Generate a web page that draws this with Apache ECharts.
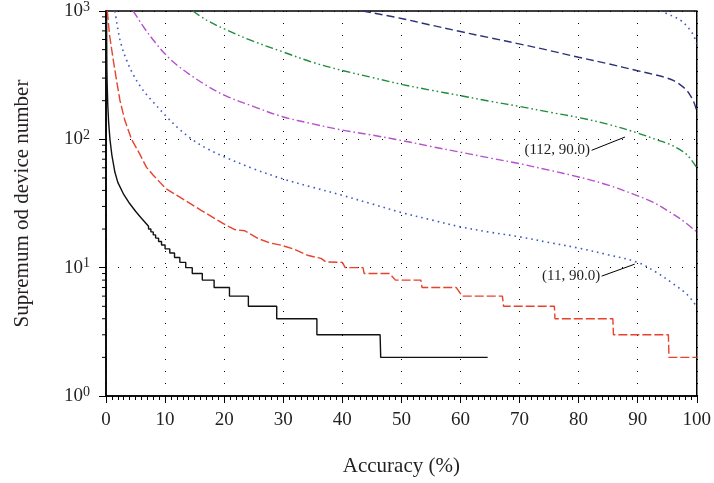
<!DOCTYPE html>
<html>
<head>
<meta charset="utf-8">
<script src="https://cdn.jsdelivr.net/npm/echarts@6/dist/echarts.min.js"></script>
<style>html,body{margin:0;padding:0;background:#fff}#c{width:714px;height:483px}</style>
</head>
<body>
<div id="c"></div>
<script>
// ---- data ----
const xTicks = [0, 10, 20, 30, 40, 50, 60, 70, 80, 90, 100];
const yTicks = [1, 10, 100, 1000];
const yMinorTicks = [2,3,4,5,6,7,8,9,20,30,40,50,60,70,80,90,200,300,400,500,600,700,800,900];

const blackSolid = [[0.1,1000],[0.12,562],[0.15,355],[0.2,269],[0.3,186],[0.45,135],[0.67,100],[1.0,75],[1.5,55.6],[2.0,46.2],[3.0,37.2],[4.0,31.6],[5.0,27.5],[6.0,24.3],[7.2,21],[7.2,20],[7.6,20],[7.6,19],[8.0,19],[8.0,18],[8.4,18],[8.4,17],[8.9,17],[8.9,16],[9.4,16],[9.4,15],[10.0,15],[10.0,14],[10.8,14],[10.8,13],[11.6,13],[11.6,12],[12.5,12],[12.5,11],[13.5,11],[13.5,10],[14.6,10],[14.6,9],[16.3,9],[16.3,8],[18.3,8],[18.3,7],[20.9,7],[20.9,6],[24.1,6],[24.1,5],[28.9,5],[28.9,4],[35.7,4],[35.7,3],[46.4,3],[46.5,2],[64.6,2]];

const redDashed = [[0.22,1000],[0.6,650],[1.24,412],[1.8,285],[2.36,201],[3.2,140],[4.33,100],[5.7,77],[6.86,60.5],[8.0,52.5],[9.1,46.4],[10.2,41.1],[12.5,35.4],[16.1,28],[19.8,22.1],[21.8,19.8],[23.5,19.4],[25.7,16.9],[27.7,15.6],[29.6,15.0],[31.9,13.9],[34.1,12.5],[36.4,11.8],[37.2,11.1],[37.5,11],[40,11],[40.5,10],[43.5,10],[43.7,9],[48,9],[49,8],[53.3,8],[53.5,7],[59.3,7],[60.3,6],[67.1,6],[67.3,5],[75.9,5],[76,4],[85.8,4],[85.9,3],[95.2,3],[95.3,2],[100,2]];

const blueDotted = [[1.52,1000],[2.0,724],[2.5,562],[3.5,412],[4.6,320],[5.7,263],[7.0,219],[8.0,195],[10.2,151],[12.5,119],[14.7,98.9],[17,85.1],[20.1,72.8],[25,58.9],[30,49.0],[35,42.3],[40,36.6],[45,31.4],[50,26.9],[55,23.6],[60,20.8],[65,18.9],[70,17.4],[75,15.7],[80,14.2],[85,12.6],[90,11.0],[93,9.29],[96,7.5],[98.5,6.1],[100,4.95]];

const purpleDashDot = [[4.6,1000],[6.6,724],[8.5,556],[10.2,452],[12,380],[14,324],[17,263],[20.2,219],[25,180],[29.9,150],[35,132],[40,118],[45,108],[50,98],[55,88],[60,79.4],[65,71.5],[70.1,64.5],[75,57.5],[80,50.9],[85,44],[89.8,36.6],[92.5,32.5],[94.9,28.1],[97.5,23.5],[100,19]];

const greenDashDotDot = [[14.7,1000],[17,850],[20.1,722],[24.9,582],[29.9,481],[35,398],[40,344],[45.1,303],[50.2,267],[54.7,243],[60,219],[65,198],[70.1,180],[75,163],[80.3,147],[85,131],[90,112],[93,100],[95.7,90.2],[98,78.2],[99.2,68],[100,60]];

const navyDashed = [[43.5,1000],[50,875],[54.7,782],[60,692],[65,618],[69.9,555],[75,493],[80,436],[85,388],[89.8,344],[92.5,322],[94.6,304],[96.2,285],[97.4,262],[98.4,238],[99.1,212],[99.6,190],[100,166]];

const blueDotted2 = [[93.8,1000],[95.7,923],[97.4,836],[98.8,718],[99.5,640],[100,555]];

const annoGreenText = '(112, 90.0)';
const annoGreenLine = [[82.2, 82.1], [87.85, 104.2]];
const annoBlueText = '(11, 90.0)';
const annoBlueLine = [[83.9, 8.59], [89.5, 10.65]];

// ---- chart ----
const FONT = 'Liberation Serif';
const TXT = '#231f20';
const chart = echarts.init(document.getElementById('c'), null, {renderer: 'canvas'});

function annotation(line, text) {
  return {
    markLine: {
      silent: true, symbol: ['none', 'none'], animation: false,
      lineStyle: {color: '#000', width: 1, type: 'solid'},
      label: {show: false},
      data: [[{coord: line[0]}, {coord: line[1]}]]
    },
    markPoint: {
      silent: true, symbol: 'circle', symbolSize: 1, animation: false,
      itemStyle: {color: 'rgba(0,0,0,0)'},
      label: {show: true, position: 'left', distance: 1, formatter: text,
              fontFamily: FONT, fontSize: 15, color: TXT},
      data: [{coord: line[0]}]
    }
  };
}

function lineSeries(data, color, dash, width, smooth, extra) {
  return Object.assign({
    type: 'line', data: data, showSymbol: false, smooth: smooth, animation: false,
    lineStyle: {color: color, width: width, type: dash}, z: 3
  }, extra || {});
}

const option = {
  backgroundColor: '#fff',
  animation: false,
  grid: {left: 106, right: 15, top: 10, bottom: 87, show: true, borderColor: '#000', borderWidth: 1.5, backgroundColor: 'transparent'},
  xAxis: {
    type: 'value', min: 0, max: 100, interval: 10,
    name: 'Accuracy (%)', nameLocation: 'middle', nameGap: 60,
    nameTextStyle: {fontFamily: FONT, fontSize: 21, color: TXT},
    axisLine: {show: true, lineStyle: {color: '#000', width: 1.5}},
    axisTick: {show: true, length: 7, lineStyle: {color: '#000', width: 1}},
    minorTick: {show: true, splitNumber: 10, length: 4, lineStyle: {color: '#000', width: 1}},
    axisLabel: {fontFamily: FONT, fontSize: 19, color: TXT, margin: 15,
                formatter: v => xTicks.indexOf(v) >= 0 ? String(v) : ''},
    splitLine: {show: true, lineStyle: {color: '#000', width: 1, type: [1, 11]}}
  },
  yAxis: {
    type: 'log', logBase: 10, min: yTicks[0], max: yTicks[yTicks.length - 1],
    name: 'Supremum od device number', nameLocation: 'middle', nameGap: 73,
    nameTextStyle: {fontFamily: FONT, fontSize: 21, color: TXT},
    axisLine: {show: true, lineStyle: {color: '#000', width: 1.5}},
    axisTick: {show: true, length: 7, lineStyle: {color: '#000', width: 1}},
    minorTick: {show: false},
    axisLabel: {
      margin: 16, fontFamily: FONT, color: TXT,
      formatter: v => '{b|10}{s|' + Math.round(Math.log10(v)) + '}',
      rich: {
        b: {fontFamily: FONT, fontSize: 19, color: TXT, lineHeight: 22},
        s: {fontFamily: FONT, fontSize: 14, color: TXT, lineHeight: 12, verticalAlign: 'top'}
      }
    },
    splitLine: {show: true, lineStyle: {color: '#000', width: 1, type: [1, 11]}}
  },
  series: [
    {
      type: 'custom', silent: true, animation: false, clip: false, z: 5,
      data: yMinorTicks.map(v => [0, v]),
      encode: {x: 0, y: 1},
      renderItem: (params, api) => {
        const p = api.coord([api.value(0), api.value(1)]);
        return {type: 'line', shape: {x1: p[0] - 4, y1: p[1], x2: p[0], y2: p[1]},
                style: {stroke: '#000', lineWidth: 1}};
      }
    },
    lineSeries(blackSolid, '#111', 'solid', 1.4, false),
    lineSeries(redDashed, '#e8412c', [9, 3], 1.4, false),
    lineSeries(blueDotted, '#3c5cc4', [1.6, 4], 1.6, 0.35, annotation(annoBlueLine, annoBlueText)),
    lineSeries(purpleDashDot, '#b552cc', [8, 3, 1.6, 3], 1.4, 0.35),
    lineSeries(greenDashDotDot, '#1e8c3c', [8, 3, 1.6, 3, 1.6, 3], 1.4, 0.35, annotation(annoGreenLine, annoGreenText)),
    lineSeries(navyDashed, '#2c3374', [8, 4], 1.4, 0.35),
    lineSeries(blueDotted2, '#4a56c0', [1.6, 4], 1.6, 0.35)
  ]
};
chart.setOption(option);
</script>
</body>
</html>
